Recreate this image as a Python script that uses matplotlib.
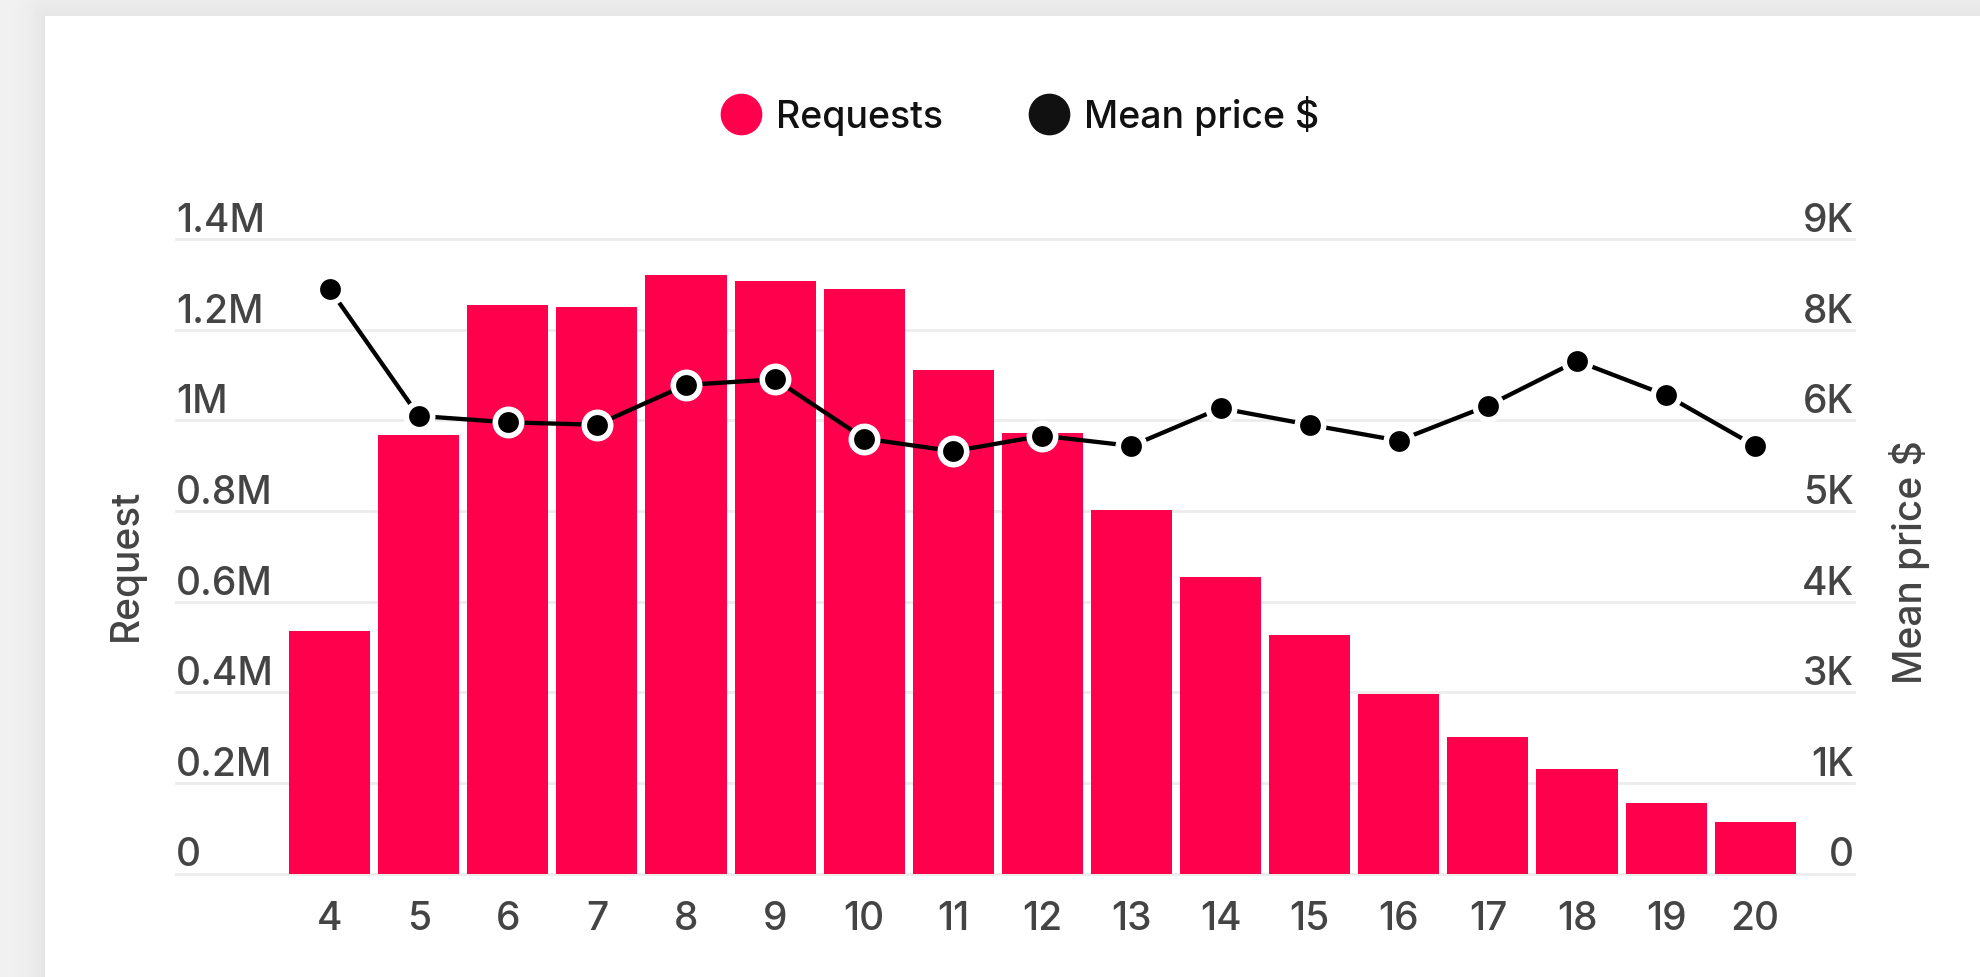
import numpy as np
import matplotlib
matplotlib.use("Agg")
import matplotlib.pyplot as plt
from matplotlib.lines import Line2D
from matplotlib import transforms

plt.rcParams["font.family"] = ["Inter", "DejaVu Sans"]

# length of stay (nights) on the x axis
nights = [4, 5, 6, 7, 8, 9, 10, 11, 12, 13, 14, 15, 16, 17, 18, 19, 20]
requests = [535e3, 967e3, 1254e3, 1250e3, 1320e3, 1307e3, 1290e3, 1112e3,
            972e3, 802e3, 654e3, 526e3, 396e3, 301e3, 230e3, 155e3, 114e3]
mean_price = [8290, 6490, 6400, 6365, 6930, 7010, 6170, 5990,
              6210, 6065, 6600, 6365, 6140, 6635, 7270, 6785, 6065]

req_ticks = [0, 0.2e6, 0.4e6, 0.6e6, 0.8e6, 1.0e6, 1.2e6, 1.4e6]
req_labels = ["0", "0.2M", "0.4M", "0.6M", "0.8M", "1M", "1.2M", "1.4M"]
price_max = 9000
price_labels = ["0", "1K", "3K", "4K", "5K", "6K", "8K", "9K"]

RED = "#ff004d"
TICK = "#444444"
GRID = "#ececec"
W, H = 1981, 978

fig = plt.figure(figsize=(W / 100, H / 100), dpi=100)

# page background with a soft shadow around the white card
bg = fig.add_axes([0, 0, 1, 1], zorder=-10)
card_x, card_y = 44.6, 16.7
xx, yy = np.meshgrid(np.arange(W) + 0.5, np.arange(H) + 0.5)
dx = np.clip(card_x - xx, 0, None)
dy = np.clip(card_y - yy, 0, None)
dist = np.hypot(dx, dy)
shade = np.where(dist > 0, 0.955 - 0.055 * np.exp(-dist / 22.0), 1.0)
bg.imshow(shade, cmap="gray", vmin=0, vmax=1, extent=(0, W, H, 0),
          aspect="auto", interpolation="bilinear")
bg.set_xlim(0, W)
bg.set_ylim(H, 0)
bg.axis("off")

# plot area (pixel box of the gridlines)
left_px, right_px, top_px, zero_px = 176, 1854, 240, 874.5
ax = fig.add_axes([left_px / W, (H - zero_px) / H,
                   (right_px - left_px) / W, (zero_px - top_px) / H])
ax.set_facecolor("none")
for s in ax.spines.values():
    s.set_visible(False)

ax.bar(nights, requests, width=0.91, color=RED, zorder=2)
ax.set_xlim(2.276, 21.109)
ax.set_ylim(0, 1.4e6)
for v in req_ticks:
    ax.axhline(v, color=GRID, lw=2, zorder=0, clip_on=False)

ax.set_yticks([])
ax.set_xticks(nights)
ax.set_xticklabels([str(n) for n in nights], fontsize=28, color=TICK,
                   fontweight="medium")
ax.tick_params(axis="x", length=0, pad=19)

lift = transforms.offset_copy(ax.get_yaxis_transform(), fig=fig, y=8, units="dots")
for v, lab in zip(req_ticks, req_labels):
    ax.text(0, v, lab, transform=lift, ha="left", va="baseline",
            fontsize=28, color=TICK, fontweight="medium")

ax2 = ax.twinx()
ax2.set_ylim(0, price_max)
for s in ax2.spines.values():
    s.set_visible(False)
ax2.set_yticks([])
lift2 = transforms.offset_copy(ax2.get_yaxis_transform(), fig=fig, y=8, units="dots")
for v, lab in zip(np.linspace(0, price_max, len(price_labels)), price_labels):
    ax2.text(1, v, lab, transform=lift2, ha="right", va="baseline",
             fontsize=28, color=TICK, fontweight="medium")

ax2.plot(nights, mean_price, color="black", lw=3.1, marker="o", ms=19,
         mfc="black", mec="white", mew=4.0, zorder=3, clip_on=False)

fig.text(126 / W, 1 - 565 / H, "Request", rotation=90, ha="center",
         va="center", fontsize=28, color=TICK, fontweight="medium")
fig.text(1910 / W, 1 - 562 / H, "Mean price $", rotation=90, ha="center",
         va="center", fontsize=28, color=TICK, fontweight="medium")

handles = [
    Line2D([], [], ls="", marker="o", ms=29, mfc=RED, mec=RED),
    Line2D([], [], ls="", marker="o", ms=29, mfc="#111111", mec="#111111"),
]
fig.legend(handles, ["Requests", "Mean price $"], loc="center",
           bbox_to_anchor=(0.515, 1 - 116 / H), ncol=2, frameon=False,
           fontsize=27, handlelength=1.05, handletextpad=0.4,
           columnspacing=2.3, labelcolor="#111111",
           prop={"size": 27, "weight": "medium"})

fig.savefig("out.png", dpi=100)
